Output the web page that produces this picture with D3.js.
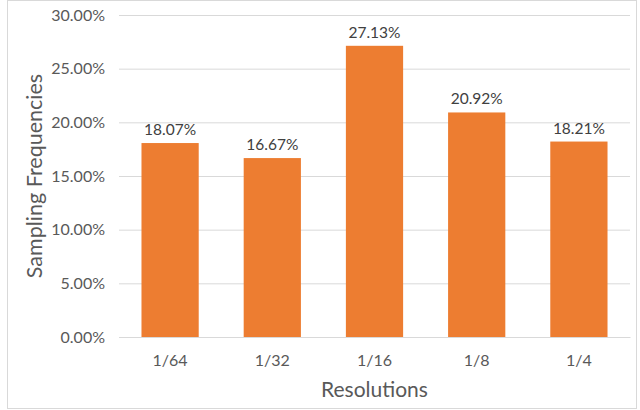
<!DOCTYPE html>
<html><head><meta charset="utf-8">
<script src="https://cdn.jsdelivr.net/npm/d3@7"></script>
<style>body{margin:0;background:#fff;} text{font-family:Lato,"Open Sans",sans-serif;}</style>
</head><body>
<svg id="c" width="640" height="410"></svg>
<script>
const categories = ["1/64","1/32","1/16","1/8","1/4"];
const values = [18.07, 16.67, 27.13, 20.92, 18.21];
const yTicks = [0,5,10,15,20,25,30];

const svg = d3.select("#c");
const m = {left:119, right:10, top:15, bottom:73};
const W = 640, H = 410;
svg.append("rect").attr("x",7.5).attr("y",0.5).attr("width",629).attr("height",408)
  .attr("fill","#fff").attr("stroke","#d9d9d9");

const x = d3.scaleBand().domain(categories).range([m.left, W - m.right]).paddingInner(0.44).paddingOuter(0.22);
const y = d3.scaleLinear().domain([0,30]).range([H - m.bottom, m.top]);

const g = svg.append("g");
const yAxis = d3.axisLeft(y).tickValues(yTicks).tickSize(-(W - m.right - m.left)).tickPadding(14)
  .tickFormat(d => d.toFixed(2) + "%");
const ya = g.append("g").attr("transform",`translate(${m.left},0)`).call(yAxis);
ya.select(".domain").remove();
ya.selectAll("line").attr("stroke","#d9d9d9").attr("stroke-width",1);
ya.selectAll("text").attr("fill","#595959").style("font-size","16px");

g.selectAll("rect.bar").data(values).join("rect").attr("class","bar")
  .attr("x",(d,i)=>x(categories[i])).attr("width",x.bandwidth())
  .attr("y",d=>y(d)).attr("height",d=>y(0)-y(d)).attr("fill","#ED7D31");

g.selectAll("text.lbl").data(values).join("text").attr("class","lbl")
  .attr("x",(d,i)=>x(categories[i])+x.bandwidth()/2).attr("y",d=>y(d)-8)
  .attr("text-anchor","middle").attr("fill","#404040").style("font-size","15.5px")
  .text(d=>d.toFixed(2)+"%");

const xAxis = d3.axisBottom(x).tickSize(0).tickPadding(18);
const xa = g.append("g").attr("transform",`translate(0,${y(0)})`).call(xAxis);
xa.select(".domain").attr("stroke","#d9d9d9");
xa.selectAll("text").attr("fill","#595959").style("font-size","16px");

svg.append("text").attr("x",(m.left + W - m.right)/2).attr("y",397).attr("text-anchor","middle")
  .attr("fill","#595959").style("font-size","21px").text("Resolutions");
svg.append("text").attr("transform",`translate(42,${(m.top + H - m.bottom)/2}) rotate(-90)`)
  .attr("text-anchor","middle").attr("fill","#595959").style("font-size","21.5px").text("Sampling Frequencies");
</script>
</body></html>
